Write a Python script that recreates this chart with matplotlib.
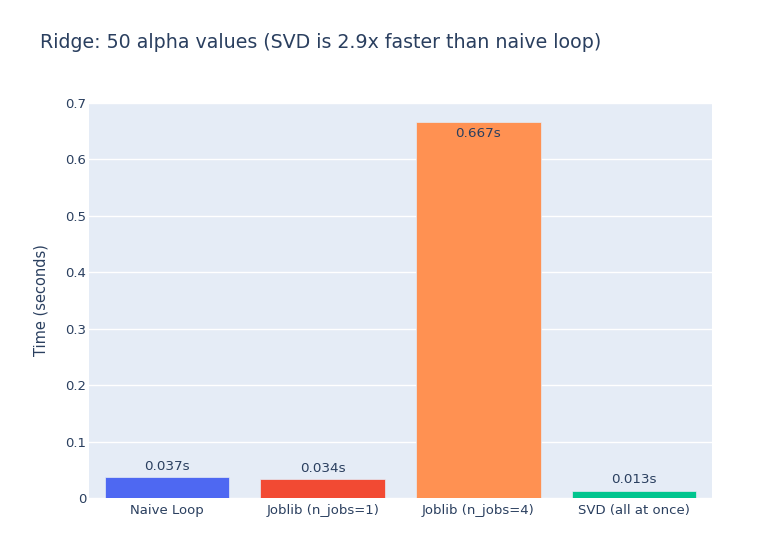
import matplotlib.pyplot as plt

methods = ["Naive Loop", "Joblib (n_jobs=1)", "Joblib (n_jobs=4)", "SVD (all at once)"]
times = [0.037, 0.034, 0.667, 0.013]
colors = ["#4E68F2", "#F24A33", "#FF9152", "#00C58E"]

text_color = "#2a3f5f"
plt.rcParams['font.family'] = ['DejaVu Sans']

fig = plt.figure(figsize=(7.79, 5.56), dpi=100)
ax = fig.add_axes([89 / 779, 58 / 556, 623 / 779, 395 / 556])
ax.set_facecolor("#E5ECF6")

x = range(len(methods))
ax.bar(x, times, width=0.8, color=colors, edgecolor="#E5ECF6", linewidth=0.5, zorder=3)

ax.set_xlim(-0.5, len(methods) - 0.5)
ax.set_ylim(0, 0.7)
ax.set_yticks([0, 0.1, 0.2, 0.3, 0.4, 0.5, 0.6, 0.7])
ax.set_yticklabels(["0", "0.1", "0.2", "0.3", "0.4", "0.5", "0.6", "0.7"])
ax.set_xticks(list(x))
ax.set_xticklabels(methods)
ax.grid(axis="y", color="white", linewidth=1, zorder=0)
ax.set_axisbelow(True)
for s in ax.spines.values():
    s.set_visible(False)
ax.tick_params(axis="both", length=0, labelsize=9.5, colors=text_color)
ax.tick_params(axis="y", pad=2)
ax.tick_params(axis="x", pad=4)

# value labels: inside the tall bar, above the short ones
for i, t in enumerate(times):
    label = f"{t:.3f}s"
    if t > 0.3:
        ax.annotate(label, (i, t), xytext=(0, -4), textcoords="offset points",
                    ha="center", va="top", fontsize=9.7, color=text_color)
    else:
        ax.annotate(label, (i, t), xytext=(0, 3), textcoords="offset points",
                    ha="center", va="bottom", fontsize=9.7, color=text_color)

ax.set_ylabel("Time (seconds)", fontsize=10.5, color=text_color, labelpad=12)
fig.text(40 / 779, 1 - 43 / 556, "Ridge: 50 alpha values (SVD is 2.9x faster than naive loop)",
         fontsize=13.7, color=text_color, va="center", ha="left")

fig.savefig("out.png", dpi=100)
